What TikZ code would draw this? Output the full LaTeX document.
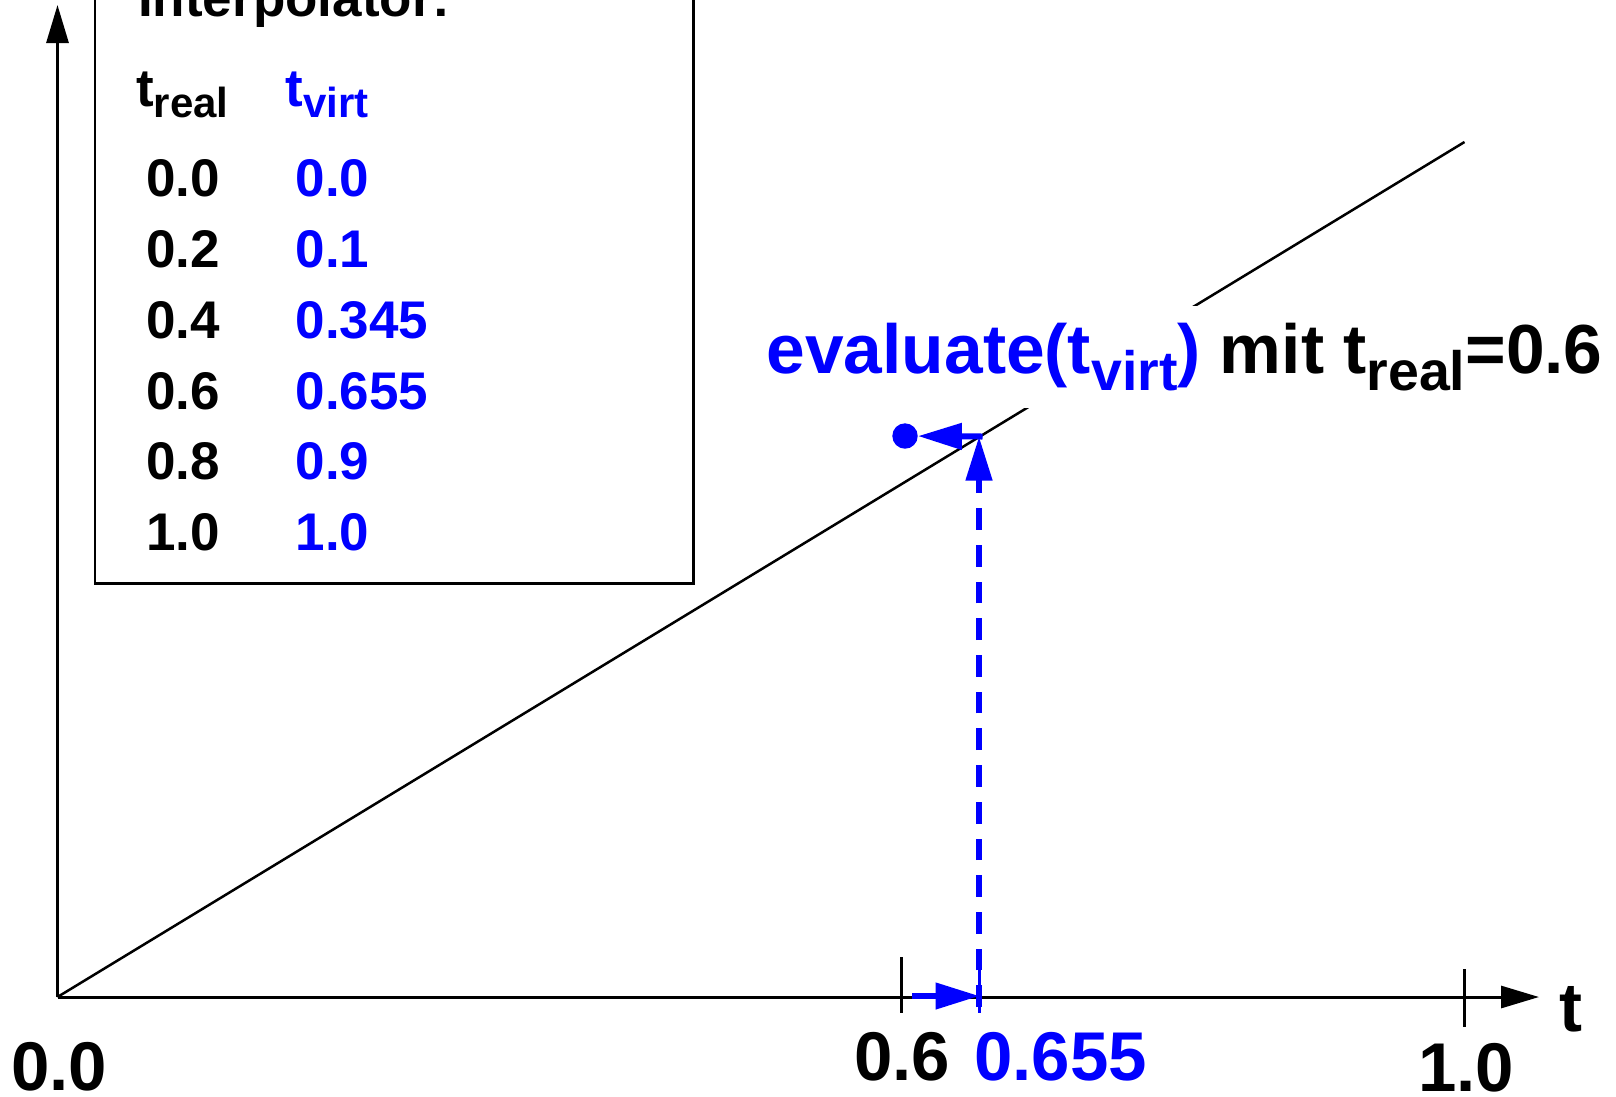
\documentclass[tikz,border=0pt]{standalone}
\usepackage{fontspec}
\setmainfont{Liberation Sans}
\usetikzlibrary{arrows.meta}
\definecolor{vblue}{RGB}{0,0,255}
\newcommand{\fsz}[1]{\fontsize{#1pt}{#1pt}\selectfont}
\newcommand{\lowsub}[3]{\raisebox{-#1pt}{\fsz{#2}#3}}
\begin{document}
\begin{tikzpicture}[x=1pt,y=-1pt,
  txt/.style={inner sep=0pt, anchor=base west, font=\bfseries\fsz{53}},
  axlbl/.style={inner sep=0pt, anchor=base, font=\bfseries\fsz{69}},
  blk/.style={line width=2.5pt},
  axisarrow/.style={line width=3pt, -{Triangle[length=38pt,width=22pt]}},
  barrow/.style={draw=vblue, line width=6pt, -{Triangle[length=44pt,width=25.5pt]}},
]
\useasboundingbox (0,0) rectangle (1616,1096);
\clip (0,0) rectangle (1616,1096);

% axes and diagonal
\coordinate (O) at (57.5,997);
\coordinate (Ytip) at (57.5,5);
\coordinate (Xtip) at (1539,997);
\coordinate (Dend) at (1464.5,142);
\draw[axisarrow] (O) -- (Ytip);
\draw[axisarrow] (O) -- (Xtip);
\draw[blk] (O) -- (Dend);

% ticks
\draw[blk] (901.7,957) -- (901.7,1013);
\draw[blk] (1464.5,969) -- (1464.5,1026.7);
\draw[vblue, line width=3pt] (979,957) -- (979,1013);

% table box
\draw[blk] (95,-10) rectangle (693.5,583.5);
\node[txt] (title) at (138,16) {Interpolator:};
\node[txt] (hreal) at (136,106) {t\lowsub{11.3}{42}{real}};
\node[txt, text=vblue] (hvirt) at (285.5,106) {t\lowsub{11.3}{42}{virt}};
\foreach \r/\v [count=\i from 0] in {0.0/0.0, 0.2/0.1, 0.4/0.345, 0.6/0.655, 0.8/0.9, 1.0/1.0} {
  \node[txt] (r\i) at (146,{196.7+70.8*\i}) {\r};
  \node[txt, text=vblue] (v\i) at (295.5,{196.7+70.8*\i}) {\v};
}

% label over the diagonal
\node[txt, font=\bfseries\fsz{69.5}, fill=white, inner xsep=0pt, inner ysep=17pt] (lbl) at (766.5,373.3)
  {\textcolor{vblue}{evaluate(t\lowsub{16.7}{55.5}{virt})} mit t\lowsub{16.7}{55.5}{real}=0.6};

% blue construction
\node[circle, fill=vblue, inner sep=0pt, minimum size=25.4pt] (dot) at (905,436) {};
\coordinate (hit) at (979,436.5);
\coordinate (vb) at (979,1007);
\coordinate (a6) at (912,996);
\coordinate (a655) at (979.5,996);
\draw[barrow, dash pattern=on 21.7pt off 15pt] (vb) -- (hit);
\draw[barrow] ([xshift=3.5pt]hit) -- (dot);
\draw[barrow] (a6) -- (a655);

% axis labels
\node[axlbl] (l00) at (59,1090) {0.0};
\node[axlbl] (l06) at (902,1080) {0.6};
\node[axlbl, anchor=base west, text=vblue] (l0655) at (974,1080) {0.655};
\node[axlbl] (l10) at (1466,1091) {1.0};
\node[axlbl, anchor=base west] (lt) at (1559,1031.7) {t};
\end{tikzpicture}
\end{document}
